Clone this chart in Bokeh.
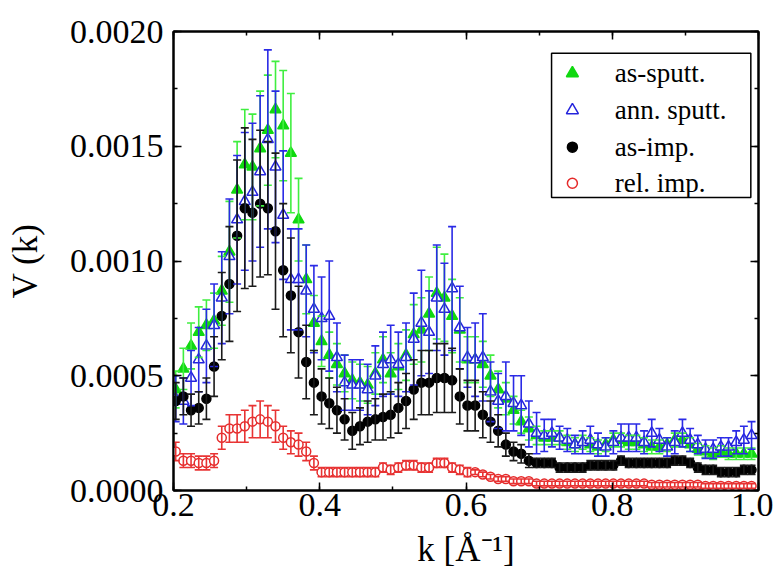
from bokeh.plotting import figure
from bokeh.models import (ColumnDataSource, Whisker, TeeHead, SingleIntervalTicker, LinearAxis,
                          PrintfTickFormatter, CustomJSTickFormatter, Label, BoxAnnotation, Range1d)
from bokeh.embed import file_html
from bokeh.resources import INLINE

k = [0.203, 0.2135, 0.224, 0.2345, 0.245, 0.2555, 0.266, 0.2765, 0.287, 0.2975,
     0.308, 0.3185, 0.329, 0.3395, 0.350, 0.3605, 0.371, 0.3815, 0.392, 0.4025,
     0.413, 0.4235, 0.434, 0.4445, 0.455, 0.4655, 0.476, 0.4865, 0.497, 0.5075,
     0.518, 0.5285, 0.539, 0.5495, 0.560, 0.5705, 0.581, 0.5915, 0.602, 0.6125,
     0.623, 0.6335, 0.644, 0.6545, 0.665, 0.6755, 0.686, 0.6965, 0.707, 0.7175,
     0.728, 0.7385, 0.749, 0.7595, 0.770, 0.7805, 0.791, 0.8015, 0.812, 0.8225,
     0.833, 0.8435, 0.854, 0.8645, 0.875, 0.8855, 0.896, 0.9065, 0.917, 0.9275,
     0.938, 0.9485, 0.959, 0.9695, 0.980, 0.9905]

as_sputt = [0.00044, 0.00053, 0.00063, 0.00069, 0.00072, 0.00074, 0.00087, 0.00104, 0.00131, 0.00142,
            0.00141, 0.00149, 0.00157, 0.00166, 0.00159, 0.00147, 0.00118, 0.00092, 0.00073, 0.00065,
            0.00059, 0.00055, 0.00051, 0.00048, 0.00047, 0.00046, 0.00051, 0.00057, 0.00051, 0.00054,
            0.00059, 0.00068, 0.00070, 0.00077, 0.00086, 0.00084, 0.00076, 0.00070, 0.00057, 0.00057,
            0.00055, 0.00050, 0.00044, 0.00040, 0.00035, 0.00030, 0.00027, 0.00024, 0.00023, 0.00023,
            0.00023, 0.00021, 0.00020, 0.00021, 0.00020, 0.00019, 0.00020, 0.00022, 0.00022, 0.00021,
            0.00021, 0.00020, 0.00019, 0.00019, 0.00020, 0.00022, 0.00022, 0.00020, 0.00018, 0.00017,
            0.00016, 0.00017, 0.00016, 0.00016, 0.00016, 0.00016]
as_sputt_err = [0.00008, 0.00009, 0.00010, 0.00011, 0.00011, 0.00012, 0.00015, 0.00022, 0.00021, 0.00024,
                0.00023, 0.00025, 0.00024, 0.00021, 0.00024, 0.00026, 0.00018, 0.00015, 0.00012, 0.00011,
                0.00010, 0.00009, 0.00008, 0.00008, 0.00008, 0.00008, 0.00009, 0.00010, 0.00009, 0.00010,
                0.00011, 0.00013, 0.00014, 0.00016, 0.00020, 0.00019, 0.00016, 0.00014, 0.00010, 0.00010,
                0.00010, 0.00009, 0.00008, 0.00007, 0.00006, 0.00005, 0.00005, 0.00004, 0.00003, 0.00003,
                0.00003, 0.00003, 0.00003, 0.00003, 0.00003, 0.00003, 0.00003, 0.00003, 0.00003, 0.00003,
                0.00003, 0.00003, 0.00003, 0.00003, 0.00003, 0.00003, 0.00003, 0.00003, 0.000025, 0.000025,
                0.000025, 0.000025, 0.000025, 0.000025, 0.000025, 0.000025]

ann_sputt = [0.00040, 0.00039, 0.00049, 0.00057, 0.00063, 0.00072, 0.00084, 0.00102, 0.00118, 0.00126,
             0.00130, 0.00139, 0.00153, 0.00141, 0.00120, 0.00092, 0.00092, 0.00087, 0.00079, 0.00075,
             0.00076, 0.00058, 0.00047, 0.00046, 0.00046, 0.00044, 0.00050, 0.00055, 0.00057, 0.00055,
             0.00058, 0.00066, 0.00073, 0.00069, 0.00084, 0.00079, 0.00088, 0.00071, 0.00058, 0.00057,
             0.00058, 0.00043, 0.00039, 0.00041, 0.00038, 0.00037, 0.00029, 0.00025, 0.00024, 0.00025,
             0.00023, 0.00022, 0.00020, 0.00021, 0.00022, 0.00020, 0.00019, 0.00021, 0.00023, 0.00023,
             0.00023, 0.00021, 0.00025, 0.00022, 0.00019, 0.00021, 0.00025, 0.00022, 0.00020, 0.00018,
             0.00018, 0.00019, 0.00019, 0.00021, 0.00022, 0.00024]
ann_sputt_err = [0.00010, 0.00010, 0.00012, 0.00014, 0.00016, 0.00018, 0.00020, 0.00025, 0.00028, 0.00030,
                 0.00030, 0.00033, 0.00039, 0.00033, 0.00028, 0.00022, 0.00022, 0.00020, 0.00019, 0.00018,
                 0.00024, 0.00015, 0.00012, 0.00011, 0.00011, 0.00011, 0.00013, 0.00014, 0.00015, 0.00014,
                 0.00015, 0.00020, 0.00023, 0.00018, 0.00023, 0.00020, 0.00027, 0.00018, 0.00013, 0.00016,
                 0.00019, 0.00013, 0.00012, 0.00015, 0.00012, 0.00013, 0.00010, 0.00009, 0.00007, 0.00006,
                 0.00005, 0.00005, 0.00004, 0.00005, 0.00006, 0.00005, 0.00004, 0.00005, 0.00006, 0.00006,
                 0.00006, 0.00005, 0.00006, 0.00005, 0.00004, 0.00005, 0.00006, 0.00005, 0.00004, 0.00004,
                 0.00004, 0.00004, 0.00004, 0.00005, 0.00006, 0.00006]

as_imp = [0.00039, 0.00041, 0.00035, 0.00036, 0.00040, 0.00054, 0.00076, 0.00090, 0.00111, 0.00123,
          0.00121, 0.00125, 0.00123, 0.00113, 0.00096, 0.00085, 0.00069, 0.00056, 0.00047, 0.00041,
          0.00038, 0.00035, 0.00031, 0.00026, 0.00028, 0.00030, 0.00031, 0.00032, 0.00033, 0.00036,
          0.00039, 0.00044, 0.00047, 0.00047, 0.00049, 0.00049, 0.00048, 0.00041, 0.00037, 0.00037,
          0.00033, 0.00030, 0.00026, 0.00020, 0.00017, 0.00016, 0.00013, 0.00012, 0.00012, 0.00012,
          0.00010, 0.00010, 0.00010, 0.00010, 0.00011, 0.00011, 0.00011, 0.00011, 0.00013, 0.00012,
          0.00012, 0.00012, 0.00012, 0.00012, 0.00012, 0.00013, 0.00013, 0.00012, 0.00010, 0.00009,
          0.00009, 0.00008, 0.00008, 0.00008, 0.00009, 0.00009]
as_imp_err = [0.00008, 0.00008, 0.00007, 0.00007, 0.00009, 0.00013, 0.00019, 0.00025, 0.00033, 0.00035,
              0.00032, 0.00032, 0.00029, 0.00034, 0.00029, 0.00025, 0.00020, 0.00016, 0.00014, 0.00012,
              0.00011, 0.00010, 0.00009, 0.00008, 0.00008, 0.00009, 0.00009, 0.00010, 0.00010, 0.00011,
              0.00012, 0.00013, 0.00014, 0.00014, 0.00015, 0.00015, 0.00014, 0.00012, 0.00011, 0.00011,
              0.00010, 0.00009, 0.00007, 0.00005, 0.00004, 0.00004, 0.00003, 0.00002, 0.00002, 0.00002,
              0.00002, 0.00002, 0.00002, 0.00002, 0.00002, 0.00002, 0.00002, 0.00002, 0.00002, 0.00002,
              0.00002, 0.00002, 0.00002, 0.00002, 0.00002, 0.00002, 0.00002, 0.00002, 0.00002, 0.00002,
              0.00002, 0.00002, 0.00002, 0.00002, 0.00002, 0.00002]

rel_imp = [0.00017, 0.00013, 0.00013, 0.00012, 0.00012, 0.00013, 0.00023, 0.00027, 0.00027, 0.00028,
           0.00030, 0.00031, 0.00030, 0.00028, 0.00023, 0.00021, 0.00020, 0.00017, 0.00012, 0.00008,
           0.00008, 0.00008, 0.00008, 0.00008, 0.00008, 0.00008, 0.00008, 0.00010, 0.00009, 0.00010,
           0.00011, 0.00011, 0.00010, 0.00010, 0.00012, 0.00012, 0.00010, 0.00009, 0.00008, 0.00008,
           0.00007, 0.00006, 0.00005, 0.00005, 0.00004, 0.00004, 0.00004, 0.00003, 0.00003, 0.00003,
           0.00003, 0.00003, 0.00003, 0.00003, 0.00003, 0.00003, 0.00003, 0.00003, 0.00003, 0.00003,
           0.00003, 0.00003, 0.000025, 0.000025, 0.000025, 0.000025, 0.000025, 0.000025, 0.000025, 0.00002,
           0.00002, 0.00002, 0.00002, 0.00002, 0.00002, 0.00002]
rel_imp_err = [0.00004, 0.00003, 0.00003, 0.00003, 0.00003, 0.00003, 0.00005, 0.00006, 0.00006, 0.00007,
               0.00007, 0.00008, 0.00007, 0.00007, 0.00005, 0.00005, 0.00005, 0.00004, 0.00003, 0.00002,
               0.00002, 0.00002, 0.00002, 0.00002, 0.00002, 0.00002, 0.00002, 0.00002, 0.00002, 0.00002,
               0.00002, 0.00002, 0.00002, 0.00002, 0.00002, 0.00002, 0.00002, 0.00002, 0.00002, 0.00001,
               0.00001, 0.00001, 0.00001, 0.00001, 0.00001, 0.00001, 0.00001, 0.00001, 0.00001, 0.00001,
               0.00001, 0.00001, 0.00001, 0.00001, 0.00001, 0.00001, 0.00001, 0.00001, 0.00001, 0.00001,
               0.00001, 0.00001, 0.00001, 0.00001, 0.00001, 0.00001, 0.00001, 0.00001, 0.00001, 0.00001,
               0.00001, 0.00001, 0.00001, 0.00001, 0.00001, 0.00001]

labels = ["as-sputt.", "ann. sputt.", "as-imp.", "rel. imp."]

x_ticks_major = 0.2
y_ticks_major = 0.0005

FONT = "'Liberation Serif', 'Times New Roman', serif"

p = figure(width=773, height=584, output_backend="svg", toolbar_location=None,
           x_range=Range1d(0.2, 1.0), y_range=Range1d(0.0, 0.002),
           min_border_left=173, min_border_right=15, min_border_top=31, min_border_bottom=94)
p.grid.visible = False
p.outline_line_color = "black"
p.outline_line_width = 2
p.background_fill_color = "white"


def style_axis(ax, ticker, fmt):
    ax.ticker = ticker
    ax.formatter = fmt
    ax.axis_line_color = "black"
    ax.axis_line_width = 2
    ax.major_tick_in = 8
    ax.major_tick_out = 0
    ax.minor_tick_in = 4
    ax.minor_tick_out = 0
    ax.major_tick_line_width = 1.5
    ax.minor_tick_line_width = 1.5
    ax.major_label_text_font = FONT
    ax.major_label_text_font_size = "34px"
    ax.major_label_text_color = "black"
    ax.axis_label_text_font = FONT
    ax.axis_label_text_font_size = "35px"
    ax.axis_label_text_font_style = "normal"
    ax.axis_label_text_color = "black"


xt = SingleIntervalTicker(interval=x_ticks_major, num_minor_ticks=2)
yt = SingleIntervalTicker(interval=y_ticks_major, num_minor_ticks=2)
style_axis(p.xaxis[0], xt, PrintfTickFormatter(format="%.1f"))
style_axis(p.yaxis[0], yt, PrintfTickFormatter(format="%.4f"))
p.xaxis[0].major_label_standoff = 3
p.yaxis[0].major_label_standoff = 10
p.xaxis[0].axis_label = "k [Å⁻¹]"
p.yaxis[0].axis_label = "V (k)"
p.xaxis[0].axis_label_standoff = 11
p.yaxis[0].axis_label_standoff = 22

blank = CustomJSTickFormatter(code="return ''")
top_ax = LinearAxis()
right_ax = LinearAxis()
style_axis(top_ax, SingleIntervalTicker(interval=x_ticks_major, num_minor_ticks=2), blank)
style_axis(right_ax, SingleIntervalTicker(interval=y_ticks_major, num_minor_ticks=2), blank)
top_ax.major_label_standoff = 0
right_ax.major_label_standoff = 0
p.add_layout(top_ax, "above")
p.add_layout(right_ax, "right")

series = [
    (as_sputt, as_sputt_err, "triangle", "#10d810", "#10d810", "#40ee40", 11),
    (ann_sputt, ann_sputt_err, "triangle", "#2424dc", "white", "#2a2ae6", 11),
    (as_imp, as_imp_err, "circle", "black", "black", "#1a1a1a", 9),
    (rel_imp, rel_imp_err, "circle", "#e52a2a", "white", "#e83333", 9),
]

for vals, errs, marker, lc, fc, ec, size in series:
    src = ColumnDataSource(data=dict(
        k=k, v=vals,
        upper=[a + b for a, b in zip(vals, errs)],
        lower=[a - b for a, b in zip(vals, errs)],
    ))
    w = Whisker(source=src, base="k", upper="upper", lower="lower",
                line_color=ec, line_width=1.6, level="glyph",
                upper_head=TeeHead(size=8, line_color=ec, line_width=1.6),
                lower_head=TeeHead(size=8, line_color=ec, line_width=1.6))
    p.add_layout(w)
    p.scatter("k", "v", source=src, marker=marker, size=size,
              line_color=lc, fill_color=fc, line_width=1.5)

# legend (drawn by hand so that its text uses the serif font)
leg_box = BoxAnnotation(left=0.717, right=0.9895, top=0.001905, bottom=0.001277,
                        fill_color="white", fill_alpha=1.0, line_color="black",
                        line_alpha=1.0, line_width=1.5, level="annotation")
p.add_layout(leg_box)
leg_x_marker = 0.7455
leg_x_text = 0.8035
leg_rows = [0.001818, 0.001657, 0.001496, 0.001339]
for (vals, errs, marker, lc, fc, ec, size), lab, ly in zip(series, labels, leg_rows):
    r = p.scatter(x=[leg_x_marker], y=[ly], marker=marker, size=size + 1,
                  line_color=lc, fill_color=fc, line_width=1.5, level="overlay")
    p.add_layout(Label(x=leg_x_text, y=ly, text=lab, text_font=FONT, text_font_size="27px",
                       text_color="black", text_baseline="middle", text_align="left",
                       level="overlay"))

open("out.html", "w").write(file_html(p, INLINE))
